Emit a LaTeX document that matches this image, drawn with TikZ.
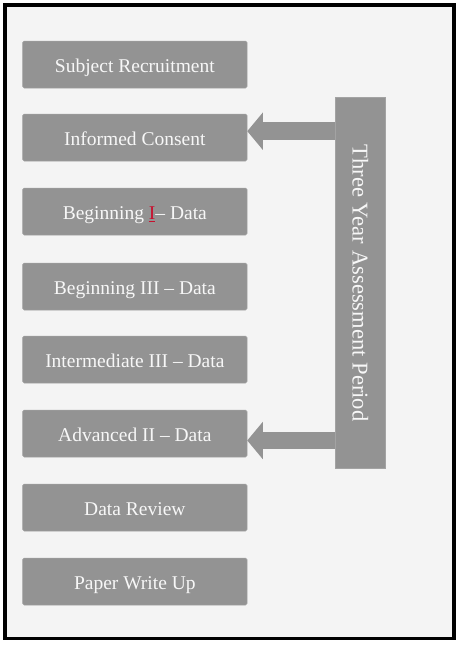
\documentclass[tikz,border=0pt]{standalone}
\usepackage{xcolor}
\usepackage{fontspec}
\setmainfont{Liberation Serif}
\usepackage{tikz}
\usetikzlibrary{positioning}
\usetikzlibrary{shapes,calc,arrows.meta}
\definecolor{boxgray}{HTML}{939393}
\definecolor{pagegray}{HTML}{F4F4F4}
\definecolor{textwhite}{HTML}{F7F7F7}
\definecolor{spellred}{HTML}{C8102E}

\begin{document}
\begin{tikzpicture}[x=1pt,y=-1pt,
  stage/.style={rectangle,rounded corners=1.5pt,fill=boxgray,draw=boxgray!85!white,line width=0.5pt,
    minimum width=224.3pt,minimum height=47pt,inner sep=0pt,text height=16pt,text depth=0pt,
    text=textwhite,font=\fontsize{19.5}{23}\selectfont},
  bar/.style={rectangle,fill=boxgray,draw=boxgray!85!white,line width=0.5pt,minimum width=50pt,minimum height=371.4pt,inner sep=0pt},
  blockarrow/.style={draw=boxgray,line width=17.7pt,-{Triangle[width=36.6pt,length=15.6pt]}}]
\useasboundingbox (0,0) rectangle (459,645);
\draw[line width=3.5pt,fill=pagegray] (5,5) rectangle (454,638.5);
% the eight stages
\node[stage] at (134.85,64.5) (recruit) {Subject Recruitment};
\node[stage] at (134.85,137.5) (consent) {Informed Consent};
\node[stage] at (134.85,211.5) (begone) {Beginning {\color{spellred}\underline{I}}– Data};
\node[stage] at (134.85,286.5) (begthree) {Beginning III – Data};
\node[stage] at (134.85,359.5) (interthree) {Intermediate III – Data};
\node[stage] at (134.85,433.5) (advtwo) {Advanced II – Data};
\node[stage] at (134.85,507.5) (review) {Data Review};
\node[stage] at (134.85,581.5) (writeup) {Paper Write Up};
% assessment period
\node[bar] at (360.3,283) (period) {};
\node[rotate=-90,text=textwhite,font=\fontsize{22.6}{26}\selectfont] at (period.center) (periodtext) {Three Year Assessment Period};
\coordinate (tipA) at ($(consent.east)+(0,-6.3)$);
\coordinate (tipB) at ($(advtwo.east)+(0,7)$);
\draw[blockarrow] (period.west |- tipA) -- (tipA);
\draw[blockarrow] (period.west |- tipB) -- (tipB);
\end{tikzpicture}
\end{document}
